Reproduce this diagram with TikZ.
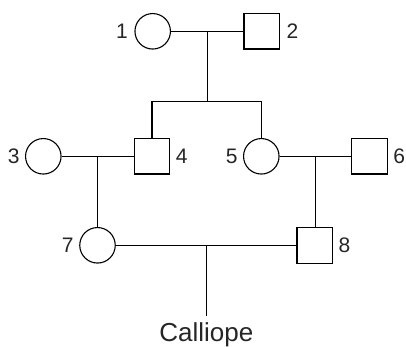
\documentclass[tikz,border=0pt]{standalone}
\usepackage{fontspec}
\setmainfont{Liberation Sans}
\begin{document}
\begin{tikzpicture}[x=1pt,y=-1pt, line width=1.1pt,
  female/.style={circle, draw, minimum size=35.5pt, inner sep=0pt},
  male/.style={rectangle, draw, minimum size=35.5pt, inner sep=0pt},
  lbl/.style={inner sep=0pt, text=black!85, font=\fontsize{21}{25}\selectfont},
  childlbl/.style={inner sep=0pt, text=black!85, font=\fontsize{26}{30}\selectfont}]
\useasboundingbox (0,0) rectangle (406,347);
% persons
\node[female] (p1) at (152.7,31.3) {};
\node[male]   (p2) at (261.7,31.3) {};
\node[female] (p3) at (43.3,156.3) {};
\node[male]   (p4) at (152,156.3) {};
\node[female] (p5) at (261.3,156.3) {};
\node[male]   (p6) at (369.5,156.3) {};
\node[female] (p7) at (97.5,245.3) {};
\node[male]   (p8) at (314.7,245.3) {};
% labels
\node[lbl, anchor=east] (l1) at ([xshift=-6pt]p1.west) {1};
\node[lbl, anchor=west] (l2) at ([xshift=6pt]p2.east) {2};
\node[lbl, anchor=east] (l3) at ([xshift=-5pt]p3.west) {3};
\node[lbl, anchor=west] (l4) at ([xshift=5pt]p4.east) {4};
\node[lbl, anchor=east] (l5) at ([xshift=-5pt]p5.west) {5};
\node[lbl, anchor=west] (l6) at ([xshift=5pt]p6.east) {6};
\node[lbl, anchor=east] (l7) at ([xshift=-5pt]p7.west) {7};
\node[lbl, anchor=west] (l8) at ([xshift=5pt]p8.east) {8};
\node[childlbl, anchor=north] (cal) at (206.3,322.5) {Calliope};
% marriages and descent
\coordinate (sib) at (206.7,101.7);
\draw (p1.east) -- (p2.west) coordinate[midway] (m12);
\draw (m12) -- (m12 |- sib);
\draw (p4.north) |- (sib) -| (p5.north);
\draw (p3.east) -- (p4.west) coordinate[midway] (m34);
\draw (m34) -- (m34 |- p7.north);
\draw (p5.east) -- (p6.west) coordinate[midway] (m56);
\draw (m56) -- (m56 |- p8.north);
\draw (p7.east) -- (p8.west) coordinate[midway] (m78);
\draw (m78) -- ([yshift=7pt]m78 |- cal.north);
\end{tikzpicture}
\end{document}
